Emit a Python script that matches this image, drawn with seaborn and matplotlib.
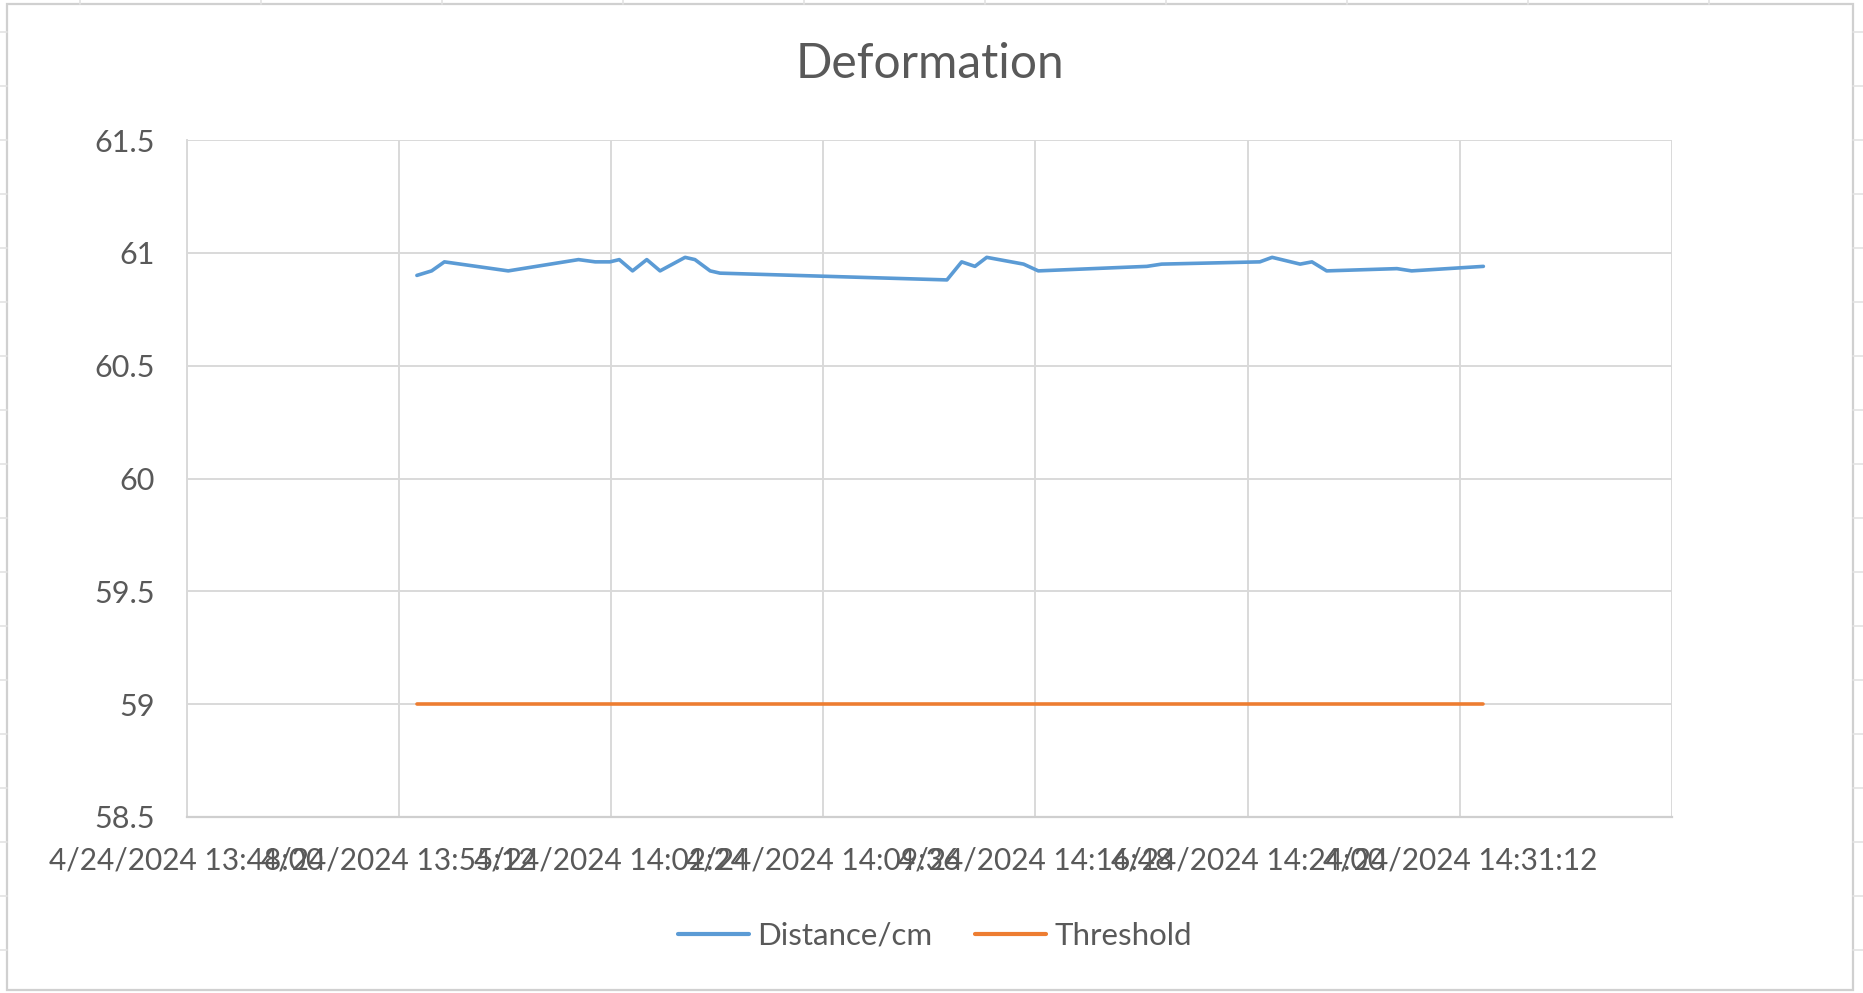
import pandas as pd
import matplotlib
matplotlib.use('Agg')
import matplotlib.pyplot as plt
from matplotlib.lines import Line2D
import seaborn as sns

# ── data ──────────────────────────────────────────────────────
DAY = '2024-04-24'
TIMES = ['13:55:49', '13:56:19', '13:56:45', '13:58:55', '14:01:18', '14:01:52',
         '14:02:22', '14:02:41', '14:03:08', '14:03:37', '14:04:04', '14:04:55',
         '14:05:15', '14:05:46', '14:06:06', '14:13:48', '14:14:18', '14:14:45',
         '14:15:09', '14:16:24', '14:16:54', '14:20:35', '14:21:05', '14:24:25',
         '14:24:50', '14:25:47', '14:26:11', '14:26:41', '14:29:04', '14:29:34',
         '14:32:00']
DISTANCE = [60.90, 60.92, 60.96, 60.92, 60.97, 60.96,
            60.96, 60.97, 60.92, 60.97, 60.92, 60.98,
            60.97, 60.92, 60.91, 60.88, 60.96, 60.94,
            60.98, 60.95, 60.92, 60.94, 60.95, 60.96,
            60.98, 60.95, 60.96, 60.92, 60.93, 60.92,
            60.94]
THRESHOLD = 59.0
SERIES = ['Distance/cm', 'Threshold']
COLORS = ['#5B9BD5', '#ED7D31']
Y_TICKS = [58.5, 59, 59.5, 60, 60.5, 61, 61.5]
Y_LABELS = ['58.5', '59', '59.5', '60', '60.5', '61', '61.5']
X_START = '13:48:00'
X_STEP_S = 432
N_XTICKS = 8

t = pd.to_datetime([f'{DAY} {s}' for s in TIMES])
df = pd.concat([
    pd.DataFrame({'time': t, 'value': DISTANCE, 'series': SERIES[0]}),
    pd.DataFrame({'time': t, 'value': THRESHOLD, 'series': SERIES[1]}),
], ignore_index=True)

xticks = pd.date_range(f'{DAY} {X_START}', periods=N_XTICKS, freq=f'{X_STEP_S}s')
xlabels = [f'{d.month}/{d.day}/{d.year} {d:%H:%M:%S}' for d in xticks[:-1]] + ['']

# ── style ─────────────────────────────────────────────────────
sns.set_theme(style='white')
plt.rcParams['font.family'] = ['Lato', 'DejaVu Sans']
TXT = '#595959'
GRID = '#D9D9D9'

W, H = 1863, 993
fig = plt.figure(figsize=(W / 100, H / 100), dpi=100)
fig.patch.set_facecolor('white')

# spreadsheet cell lines around the chart object
for y in range(32, H, 54):
    fig.add_artist(Line2D([0, 7 / W], [1 - y / H] * 2, color='#E3E3E3', lw=1.2))
    fig.add_artist(Line2D([1853 / W, 1], [1 - y / H] * 2, color='#E3E3E3', lw=1.2))
for x in range(80, W, 181):
    fig.add_artist(Line2D([x / W] * 2, [1 - 4 / H, 1], color='#E3E3E3', lw=1.2))
# chart border
fig.add_artist(plt.Rectangle((7 / W, 1 - 990 / H), (1853 - 7) / W, (990 - 4) / H,
                             fill=False, ec='#D0D0D0', lw=1.6))

L, R, T, B = 186.5, 1672, 140, 817
ax = fig.add_axes([L / W, 1 - B / H, (R - L) / W, (B - T) / H])

sns.lineplot(data=df, x='time', y='value', hue='series', hue_order=SERIES,
             palette=COLORS, linewidth=2.6, ax=ax)

ax.set_xlim(xticks[0], xticks[-1])
ax.set_ylim(Y_TICKS[0], Y_TICKS[-1])
ax.set_xticks(xticks)
ax.set_xticklabels(xlabels)
ax.set_yticks(Y_TICKS)
ax.set_yticklabels(Y_LABELS)
ax.grid(True, color=GRID, lw=1.4)
ax.set_axisbelow(True)
ax.set_xlabel('')
ax.set_ylabel('')
for s in ['top', 'right']:
    ax.spines[s].set_visible(False)
ax.spines['left'].set_color(GRID)
ax.spines['left'].set_linewidth(1.4)
ax.spines['bottom'].set_color('#CFCFCF')
ax.spines['bottom'].set_linewidth(1.6)
ax.tick_params(axis='x', length=0, pad=21, labelsize=21.5, colors=TXT)
ax.tick_params(axis='y', length=0, pad=23, labelsize=22, colors=TXT)

fig.text(929.5 / W, 1 - 78.5 / H, 'Deformation', ha='center', va='baseline',
         fontsize=34.5, color=TXT)

sns.move_legend(ax, 'center', bbox_to_anchor=(935 / W, 1 - 936 / H),
                bbox_transform=fig.transFigure, ncol=2, title=None, frameon=False,
                fontsize=22.5, handlelength=2.27, handletextpad=0.26,
                columnspacing=1.38, labelcolor=TXT)
for h in ax.get_legend().legend_handles:
    h.set_linewidth(3.0)

fig.savefig('out.png', dpi=100)
